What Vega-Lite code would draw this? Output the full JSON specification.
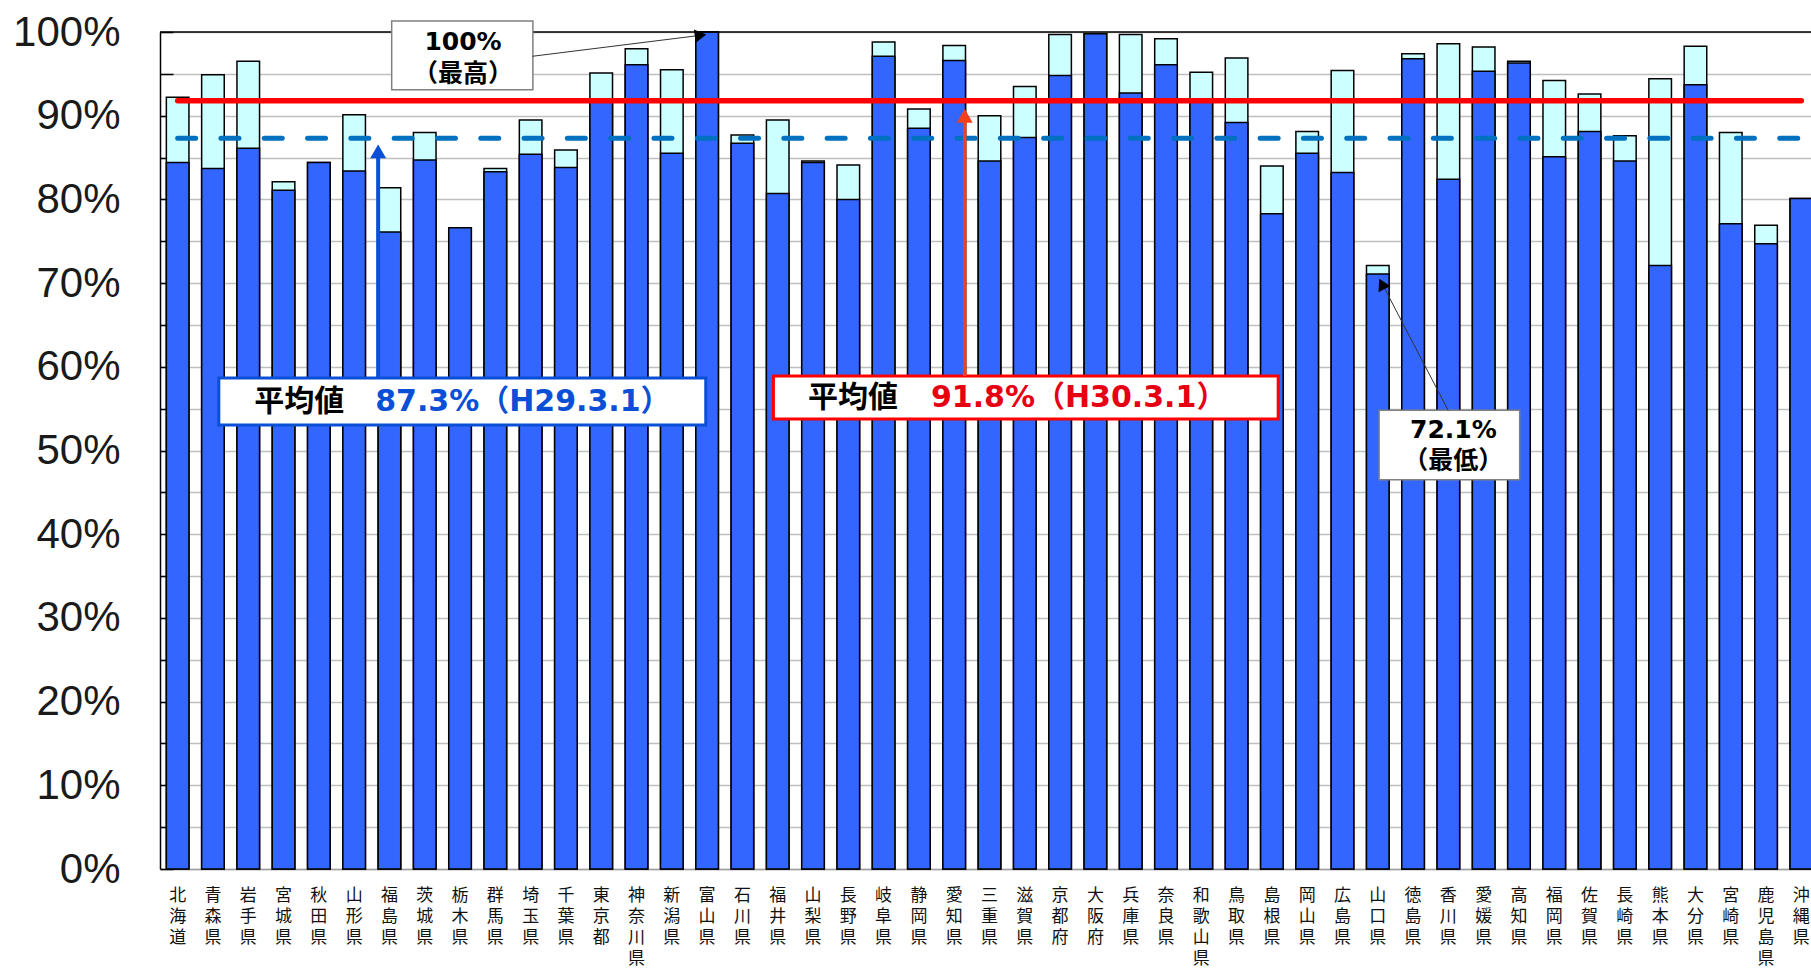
{
  "$schema": "https://vega.github.io/schema/vega-lite/v6.json",
  "width": 1651,
  "height": 837,
  "autosize": {"type": "none"},
  "padding": {"left": 160, "top": 32, "right": 0, "bottom": 102},
  "background": "white",
  "config": {
    "view": {"stroke": null},
    "axisY": {
      "values": [0, 10, 20, 30, 40, 50, 60, 70, 80, 90, 100],
      "labelExpr": "datum.value + '%'",
      "labelFont": "Liberation Sans",
      "labelFontSize": 42,
      "labelColor": "#1a1a1a",
      "labelPadding": 53,
      "grid": true,
      "gridColor": "#BFBFBF",
      "gridWidth": 1.5,
      "domainColor": "#000000",
      "domainWidth": 1.5,
      "tickColor": "#000000",
      "tickWidth": 1.5,
      "tickSize": -13
    },
    "axisX": {
      "labelExpr": "split(datum.label, '')",
      "labelFont": "Noto Sans CJK JP",
      "labelFontSize": 17,
      "labelLineHeight": 21,
      "labelAngle": 0,
      "labelPadding": 18,
      "labelColor": "#111111",
      "ticks": false,
      "grid": false,
      "domainColor": "#A0A0A0",
      "domainWidth": 1.5
    }
  },
  "datasets": {
    "rates": [
      {"pref": "北海道", "h29": 84.4, "h30": 92.2},
      {"pref": "青森県", "h29": 83.7, "h30": 94.9},
      {"pref": "岩手県", "h29": 86.1, "h30": 96.5},
      {"pref": "宮城県", "h29": 81.1, "h30": 82.1},
      {"pref": "秋田県", "h29": 84.4, "h30": 84.4},
      {"pref": "山形県", "h29": 83.4, "h30": 90.1},
      {"pref": "福島県", "h29": 76.1, "h30": 81.4},
      {"pref": "茨城県", "h29": 84.7, "h30": 88.0},
      {"pref": "栃木県", "h29": 76.6, "h30": 76.6},
      {"pref": "群馬県", "h29": 83.3, "h30": 83.7},
      {"pref": "埼玉県", "h29": 85.4, "h30": 89.5},
      {"pref": "千葉県", "h29": 83.8, "h30": 85.9},
      {"pref": "東京都", "h29": 91.6, "h30": 95.1},
      {"pref": "神奈川県", "h29": 96.1, "h30": 98.0},
      {"pref": "新潟県", "h29": 85.5, "h30": 95.5},
      {"pref": "富山県", "h29": 100.0, "h30": 100.0},
      {"pref": "石川県", "h29": 86.7, "h30": 87.7},
      {"pref": "福井県", "h29": 80.7, "h30": 89.5},
      {"pref": "山梨県", "h29": 84.4, "h30": 84.6},
      {"pref": "長野県", "h29": 80.0, "h30": 84.1},
      {"pref": "岐阜県", "h29": 97.1, "h30": 98.8},
      {"pref": "静岡県", "h29": 88.5, "h30": 90.8},
      {"pref": "愛知県", "h29": 96.6, "h30": 98.4},
      {"pref": "三重県", "h29": 84.6, "h30": 90.0},
      {"pref": "滋賀県", "h29": 87.4, "h30": 93.5},
      {"pref": "京都府", "h29": 94.8, "h30": 99.7},
      {"pref": "大阪府", "h29": 99.8, "h30": 99.8},
      {"pref": "兵庫県", "h29": 92.7, "h30": 99.7},
      {"pref": "奈良県", "h29": 96.1, "h30": 99.2},
      {"pref": "和歌山県", "h29": 91.7, "h30": 95.2},
      {"pref": "鳥取県", "h29": 89.2, "h30": 96.9},
      {"pref": "島根県", "h29": 78.3, "h30": 84.0},
      {"pref": "岡山県", "h29": 85.5, "h30": 88.1},
      {"pref": "広島県", "h29": 83.2, "h30": 95.4},
      {"pref": "山口県", "h29": 71.1, "h30": 72.1},
      {"pref": "徳島県", "h29": 96.8, "h30": 97.4},
      {"pref": "香川県", "h29": 82.4, "h30": 98.6},
      {"pref": "愛媛県", "h29": 95.3, "h30": 98.2},
      {"pref": "高知県", "h29": 96.3, "h30": 96.5},
      {"pref": "福岡県", "h29": 85.1, "h30": 94.2},
      {"pref": "佐賀県", "h29": 88.1, "h30": 92.6},
      {"pref": "長崎県", "h29": 84.6, "h30": 87.6},
      {"pref": "熊本県", "h29": 72.1, "h30": 94.4},
      {"pref": "大分県", "h29": 93.7, "h30": 98.3},
      {"pref": "宮崎県", "h29": 77.1, "h30": 88.0},
      {"pref": "鹿児島県", "h29": 74.7, "h30": 76.9},
      {"pref": "沖縄県", "h29": 80.1, "h30": 80.1}
    ]
  },
  "layer": [
    {
      "data": {"name": "rates"},
      "mark": {"type": "bar", "fill": "#CCFFFF", "stroke": "#000000", "strokeWidth": 1.5},
      "encoding": {
        "x": {
          "field": "pref", "type": "nominal", "sort": null, "title": null,
          "scale": {
            "type": "band", "paddingInner": 0.36, "paddingOuter": 0.18, "range": [0, 1659],
            "domain": ["北海道","青森県","岩手県","宮城県","秋田県","山形県","福島県","茨城県","栃木県","群馬県","埼玉県","千葉県","東京都","神奈川県","新潟県","富山県","石川県","福井県","山梨県","長野県","岐阜県","静岡県","愛知県","三重県","滋賀県","京都府","大阪府","兵庫県","奈良県","和歌山県","鳥取県","島根県","岡山県","広島県","山口県","徳島県","香川県","愛媛県","高知県","福岡県","佐賀県","長崎県","熊本県","大分県","宮崎県","鹿児島県","沖縄県"]
          }
        },
        "y": {"field": "h30", "type": "quantitative", "title": null, "scale": {"domain": [0, 100], "nice": false}}
      }
    },
    {
      "data": {"name": "rates"},
      "mark": {"type": "bar", "fill": "#3366FF", "stroke": "#000000", "strokeWidth": 1.5},
      "encoding": {
        "x": {"field": "pref", "type": "nominal", "sort": null, "title": null},
        "y": {"field": "h29", "type": "quantitative", "title": null}
      }
    },
    {
      "data": {"values": [{"v": 100}]},
      "mark": {"type": "rule", "color": "#000000", "strokeWidth": 1.5},
      "encoding": {"y": {"field": "v", "type": "quantitative", "title": null}}
    },
    {
      "data": {"values": [{"from": "北海道", "to": "沖縄県", "v": 87.3}]},
      "mark": {"type": "rule", "color": "#0070C0", "strokeWidth": 5, "strokeCap": "round", "strokeDash": [18, 25.3]},
      "encoding": {
        "x": {"field": "from", "type": "nominal", "title": null},
        "x2": {"field": "to", "title": null},
        "y": {"field": "v", "type": "quantitative", "title": null}
      }
    },
    {
      "data": {"values": [{"from": "北海道", "to": "沖縄県", "v": 91.8}]},
      "mark": {"type": "rule", "color": "#FF0000", "strokeWidth": 5.5, "strokeCap": "round"},
      "encoding": {
        "x": {"field": "from", "type": "nominal", "title": null},
        "x2": {"field": "to", "title": null},
        "y": {"field": "v", "type": "quantitative", "title": null}
      }
    },
    {
      "data": {"values": [{"p1": "福島県", "p2": "埼玉県", "top": 101.3, "bottom": 93.1}]},
      "mark": {"type": "rect", "fill": "white", "stroke": "#808080", "strokeWidth": 1.5},
      "encoding": {
        "x": {"field": "p1", "type": "nominal", "bandPosition": 0.6, "title": null},
        "x2": {"field": "p2", "bandPosition": 0.6, "title": null},
        "y": {"field": "top", "type": "quantitative", "title": null},
        "y2": {"field": "bottom", "title": null}
      }
    },
    {
      "data": {"values": [{"pref": "栃木県", "v": 98.8, "t": "100%"}, {"pref": "栃木県", "v": 95.0, "t": "（最高）"}]},
      "mark": {"type": "text", "font": "DejaVu Sans, Noto Sans CJK JP", "fontWeight": "bold", "fontSize": 25, "align": "center", "baseline": "middle", "dx": 3, "color": "#000000"},
      "encoding": {
        "x": {"field": "pref", "type": "nominal", "title": null},
        "y": {"field": "v", "type": "quantitative", "title": null},
        "text": {"field": "t"}
      }
    },
    {
      "data": {"values": [{"p1": "埼玉県", "p2": "富山県", "v1": 97.1, "v2": 99.6}]},
      "mark": {"type": "rule", "color": "#333333", "strokeWidth": 1},
      "encoding": {
        "x": {"field": "p1", "type": "nominal", "bandPosition": 0.58, "title": null},
        "x2": {"field": "p2", "bandPosition": 0.2, "title": null},
        "y": {"field": "v1", "type": "quantitative", "title": null},
        "y2": {"field": "v2", "title": null}
      }
    },
    {
      "data": {"values": [{"pref": "富山県", "v": 99.6}]},
      "mark": {"type": "point", "shape": "triangle-right", "filled": true, "size": 180, "angle": -8, "color": "#000000", "opacity": 1},
      "encoding": {
        "x": {"field": "pref", "type": "nominal", "bandPosition": 0.21, "title": null},
        "y": {"field": "v", "type": "quantitative", "title": null}
      }
    },
    {
      "data": {"values": [{"p1": "青森県", "p2": "富山県", "top": 58.66, "bottom": 53.05}]},
      "mark": {"type": "rect", "fill": "white", "stroke": "#0A4FD6", "strokeWidth": 3},
      "encoding": {
        "x": {"field": "p1", "type": "nominal", "bandPosition": 0.76, "title": null},
        "x2": {"field": "p2", "bandPosition": 0.44, "title": null},
        "y": {"field": "top", "type": "quantitative", "title": null},
        "y2": {"field": "bottom", "title": null}
      }
    },
    {
      "data": {"values": [{"pref": "岩手県", "v": 55.85, "t": "平均値"}]},
      "mark": {"type": "text", "font": "DejaVu Sans, Noto Sans CJK JP", "fontWeight": "bold", "fontSize": 30, "align": "left", "baseline": "middle", "dx": 6, "color": "#000000"},
      "encoding": {
        "x": {"field": "pref", "type": "nominal", "title": null},
        "y": {"field": "v", "type": "quantitative", "title": null},
        "text": {"field": "t"}
      }
    },
    {
      "data": {"values": [{"pref": "山形県", "v": 55.85, "t": "87.3%（H29.3.1）"}]},
      "mark": {"type": "text", "font": "DejaVu Sans, Noto Sans CJK JP", "fontWeight": "bold", "fontSize": 30, "align": "left", "baseline": "middle", "dx": 21, "color": "#0A4FD6"},
      "encoding": {
        "x": {"field": "pref", "type": "nominal", "title": null},
        "y": {"field": "v", "type": "quantitative", "title": null},
        "text": {"field": "t"}
      }
    },
    {
      "data": {"values": [{"pref": "福島県", "v1": 58.66, "v2": 85.5}]},
      "mark": {"type": "rule", "color": "#0A4FD6", "strokeWidth": 4},
      "encoding": {
        "x": {"field": "pref", "type": "nominal", "bandPosition": 0, "title": null},
        "y": {"field": "v1", "type": "quantitative", "title": null},
        "y2": {"field": "v2", "title": null}
      }
    },
    {
      "data": {"values": [{"pref": "福島県", "v": 85.73}]},
      "mark": {"type": "point", "shape": "triangle-up", "filled": true, "size": 256, "color": "#0A4FD6", "opacity": 1},
      "encoding": {
        "x": {"field": "pref", "type": "nominal", "bandPosition": 0, "title": null},
        "y": {"field": "v", "type": "quantitative", "title": null}
      }
    },
    {
      "data": {"values": [{"p1": "福井県", "p2": "島根県", "top": 58.9, "bottom": 53.76}]},
      "mark": {"type": "rect", "fill": "white", "stroke": "#FF0000", "strokeWidth": 3},
      "encoding": {
        "x": {"field": "p1", "type": "nominal", "bandPosition": 0.31, "title": null},
        "x2": {"field": "p2", "bandPosition": 0.78, "title": null},
        "y": {"field": "top", "type": "quantitative", "title": null},
        "y2": {"field": "bottom", "title": null}
      }
    },
    {
      "data": {"values": [{"pref": "山梨県", "v": 56.33, "t": "平均値"}]},
      "mark": {"type": "text", "font": "DejaVu Sans, Noto Sans CJK JP", "fontWeight": "bold", "fontSize": 30, "align": "left", "baseline": "middle", "dx": -5, "color": "#000000"},
      "encoding": {
        "x": {"field": "pref", "type": "nominal", "title": null},
        "y": {"field": "v", "type": "quantitative", "title": null},
        "text": {"field": "t"}
      }
    },
    {
      "data": {"values": [{"pref": "静岡県", "v": 56.33, "t": "91.8%（H30.3.1）"}]},
      "mark": {"type": "text", "font": "DejaVu Sans, Noto Sans CJK JP", "fontWeight": "bold", "fontSize": 30, "align": "left", "baseline": "middle", "dx": 12, "color": "#E60012"},
      "encoding": {
        "x": {"field": "pref", "type": "nominal", "title": null},
        "y": {"field": "v", "type": "quantitative", "title": null},
        "text": {"field": "t"}
      }
    },
    {
      "data": {"values": [{"pref": "愛知県", "v1": 58.9, "v2": 89.5}]},
      "mark": {"type": "rule", "color": "#F0401E", "strokeWidth": 3.5},
      "encoding": {
        "x": {"field": "pref", "type": "nominal", "bandPosition": 0.965, "title": null},
        "y": {"field": "v1", "type": "quantitative", "title": null},
        "y2": {"field": "v2", "title": null}
      }
    },
    {
      "data": {"values": [{"pref": "愛知県", "v": 90.0}]},
      "mark": {"type": "point", "shape": "triangle-up", "filled": true, "size": 256, "color": "#F0401E", "opacity": 1},
      "encoding": {
        "x": {"field": "pref", "type": "nominal", "bandPosition": 0.965, "title": null},
        "y": {"field": "v", "type": "quantitative", "title": null}
      }
    },
    {
      "data": {"values": [{"p1": "山口県", "p2": "高知県", "top": 54.8, "bottom": 46.5}]},
      "mark": {"type": "rect", "fill": "white", "stroke": "#808080", "strokeWidth": 1.5},
      "encoding": {
        "x": {"field": "p1", "type": "nominal", "bandPosition": 0.56, "title": null},
        "x2": {"field": "p2", "bandPosition": 0.53, "title": null},
        "y": {"field": "top", "type": "quantitative", "title": null},
        "y2": {"field": "bottom", "title": null}
      }
    },
    {
      "data": {"values": [{"pref": "香川県", "v": 52.45, "t": "72.1%"}, {"pref": "香川県", "v": 48.7, "t": "（最低）"}]},
      "mark": {"type": "text", "font": "DejaVu Sans, Noto Sans CJK JP", "fontWeight": "bold", "fontSize": 25, "align": "center", "baseline": "middle", "dx": 5, "color": "#000000"},
      "encoding": {
        "x": {"field": "pref", "type": "nominal", "title": null},
        "y": {"field": "v", "type": "quantitative", "title": null},
        "text": {"field": "t"}
      }
    },
    {
      "data": {"values": [{"p1": "香川県", "p2": "山口県", "v1": 54.8, "v2": 70.3}]},
      "mark": {"type": "rule", "color": "#333333", "strokeWidth": 1},
      "encoding": {
        "x": {"field": "p1", "type": "nominal", "bandPosition": 0.49, "title": null},
        "x2": {"field": "p2", "bandPosition": 0.62, "title": null},
        "y": {"field": "v1", "type": "quantitative", "title": null},
        "y2": {"field": "v2", "title": null}
      }
    },
    {
      "data": {"values": [{"pref": "山口県", "v": 69.9}]},
      "mark": {"type": "point", "shape": "triangle-up", "filled": true, "size": 180, "angle": -27, "color": "#000000", "opacity": 1},
      "encoding": {
        "x": {"field": "pref", "type": "nominal", "bandPosition": 0.68, "title": null},
        "y": {"field": "v", "type": "quantitative", "title": null}
      }
    }
  ]
}
